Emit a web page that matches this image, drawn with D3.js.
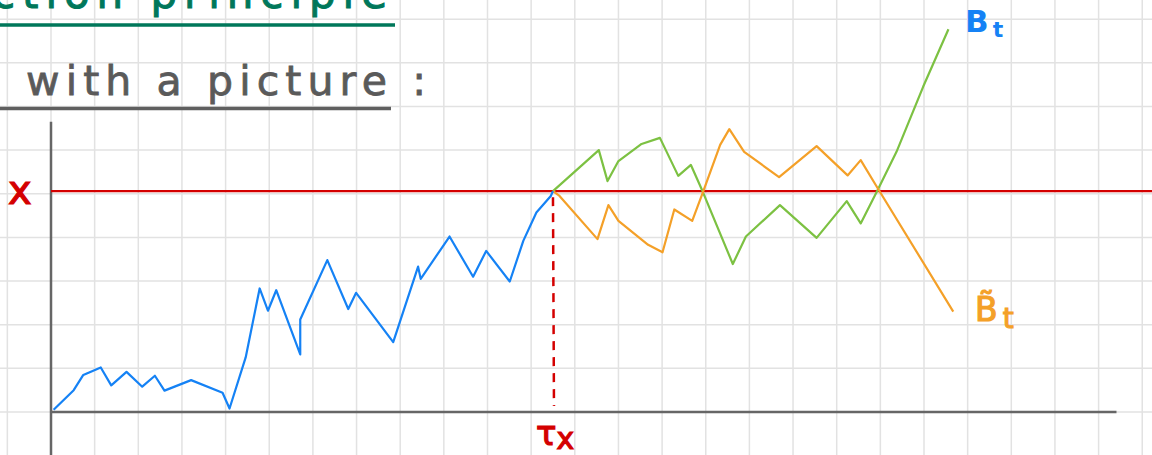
<!DOCTYPE html>
<html>
<head>
<meta charset="utf-8">
<script src="https://cdnjs.cloudflare.com/ajax/libs/d3/7.8.5/d3.min.js"></script>
<style>
  html, body { margin: 0; padding: 0; background: #fff; overflow: hidden; }
</style>
</head>
<body>
<div id="chart"></div>
<script>
'use strict';

// time (grid squares from the vertical axis) and value (grid squares above the time axis)
const blueT = [0.06, 0.52, 0.74, 1.14, 1.38, 1.73, 2.09, 2.38, 2.60, 3.21, 3.93, 4.09, 4.46, 4.78, 4.97, 5.16, 5.71, 5.71, 6.33, 6.81, 6.99, 7.84, 8.41, 8.47, 9.13, 9.67, 9.97, 10.51, 10.82, 11.12, 11.45, 11.50];
const blueV = [0.05, 0.50, 0.85, 1.02, 0.61, 0.92, 0.58, 0.83, 0.49, 0.73, 0.44, 0.08, 1.25, 2.83, 2.32, 2.79, 1.32, 2.12, 3.48, 2.36, 2.73, 1.60, 3.33, 3.05, 4.02, 3.10, 3.69, 2.99, 3.92, 4.57, 4.95, 5.06];

const greenT = [11.50, 12.55, 12.75, 13.00, 13.53, 13.95, 14.37, 14.66, 14.93, 15.62, 15.92, 16.70, 17.54, 18.23, 18.55, 18.95, 19.37, 19.98, 20.56];
const greenV = [5.06, 6.00, 5.29, 5.75, 6.14, 6.28, 5.41, 5.66, 5.05, 3.39, 4.02, 4.74, 3.99, 4.83, 4.32, 5.11, 5.96, 7.45, 8.77];

const orangeT = [11.50, 11.65, 12.52, 12.77, 13.00, 13.68, 14.01, 14.28, 14.69, 14.93, 15.33, 15.54, 15.88, 16.68, 17.54, 18.25, 18.55, 18.95, 20.67];
const orangeV = [5.06, 4.95, 3.96, 4.74, 4.38, 3.83, 3.66, 4.64, 4.38, 5.02, 6.12, 6.48, 5.96, 5.38, 6.09, 5.42, 5.77, 5.11, 2.30];

const barrier = 5.06;     // level x
const hitTime = 11.50;    // tau_x

const gridT = d3.range(-1, 26);
const gridV = d3.range(0, 10);

(function() {

  let svg = "";

  window.onload = function() {
    svg = d3.select('#chart')
      .append('svg')
      .attr('width', 1152)
      .attr('height', 455);
    drawPage();
  }

  function drawPage() {
    // one grid square = 43.65 px
    let xScale = d3.scaleLinear()
      .domain([0, 25])
      .range([51, 51 + 25 * 43.65]);
    let yScale = d3.scaleLinear()
      .domain([0, 9])
      .range([412, 412 - 9 * 43.65]);

    // paper grid
    svg.append('g').selectAll('line')
      .data(gridT)
      .enter()
      .append('line')
        .attr('x1', (d) => xScale(d))
        .attr('x2', (d) => xScale(d))
        .attr('y1', 0)
        .attr('y2', 455)
        .attr('stroke', '#e2e2e2')
        .attr('stroke-width', 1.5);
    svg.append('g').selectAll('line')
      .data(gridV)
      .enter()
      .append('line')
        .attr('x1', 0)
        .attr('x2', 1152)
        .attr('y1', (d) => yScale(d))
        .attr('y2', (d) => yScale(d))
        .attr('stroke', '#e2e2e2')
        .attr('stroke-width', 1.5);

    makeHeadings();

    // axes
    svg.append('line')
      .attr('x1', xScale(0)).attr('x2', xScale(0))
      .attr('y1', yScale(6.65)).attr('y2', 455)
      .attr('stroke', '#666').attr('stroke-width', 2.5);
    svg.append('line')
      .attr('x1', xScale(0)).attr('x2', xScale(24.41))
      .attr('y1', yScale(0)).attr('y2', yScale(0))
      .attr('stroke', '#666').attr('stroke-width', 2.5);

    // barrier level x
    svg.append('line')
      .attr('x1', xScale(0)).attr('x2', 1152)
      .attr('y1', yScale(barrier)).attr('y2', yScale(barrier))
      .attr('stroke', '#d40000').attr('stroke-width', 2.2);

    // hitting time
    svg.append('line')
      .attr('x1', xScale(hitTime)).attr('x2', xScale(hitTime) + 1)
      .attr('y1', yScale(barrier) + 6).attr('y2', yScale(0) - 6)
      .attr('stroke', '#d40000')
      .attr('stroke-width', 2.5)
      .attr('stroke-dasharray', '9,7');

    let line = d3.line()
      .x((d) => xScale(d[0]))
      .y((d) => yScale(d[1]));

    let paths = [
      {t: greenT, v: greenV, color: '#7cc142'},
      {t: orangeT, v: orangeV, color: '#f4a028'},
      {t: blueT, v: blueV, color: '#1582f5'}
    ];
    paths.forEach((p) => {
      svg.append('path')
        .datum(d3.zip(p.t, p.v))
        .attr('fill', 'none')
        .attr('stroke', p.color)
        .attr('stroke-width', 2.2)
        .attr('stroke-linejoin', 'round')
        .attr('d', line);
    });

    makeLabels();
  }

  // headings at the top of the page (the first one runs off the top edge, as in the notes)
  function makeHeadings() {
    svg.append('text')
      .attr('x', -8)
      .attr('y', 8)
      .attr('textLength', 395)
      .attr('lengthAdjust', 'spacing')
      .style('font-family', 'DejaVu Sans')
      .style('font-size', '42px')
      .style('fill', '#00775a')
      .style('stroke', '#00775a')
      .style('stroke-width', 1)
      .text('ction  principle');
    svg.append('line')
      .attr('x1', 0).attr('x2', 395)
      .attr('y1', 25).attr('y2', 25)
      .attr('stroke', '#00775a').attr('stroke-width', 3.5);

    svg.append('text')
      .attr('x', 26)
      .attr('y', 95)
      .attr('textLength', 400)
      .attr('lengthAdjust', 'spacing')
      .style('font-family', 'DejaVu Sans')
      .style('font-size', '41px')
      .style('fill', '#5a5a5a')
      .style('stroke', '#5a5a5a')
      .style('stroke-width', 0.8)
      .text('with a picture :');
    svg.append('line')
      .attr('x1', 0).attr('x2', 391)
      .attr('y1', 108.5).attr('y2', 108.5)
      .attr('stroke', '#5f5f5f').attr('stroke-width', 3.5);
  }

  // labels for the level, the hitting time and the two paths
  function makeLabels() {
    svg.append('text')
      .attr('x', 8)
      .attr('y', 204)
      .style('font-family', 'DejaVu Sans')
      .style('font-size', '40px')
      .style('fill', '#d40000')
      .style('stroke', '#d40000')
      .style('stroke-width', 1.2)
      .text('x');

    let tau = svg.append('text')
      .attr('x', 536)
      .attr('y', 445)
      .style('font-family', 'DejaVu Sans')
      .style('font-size', '34px')
      .style('fill', '#d40000')
      .style('stroke', '#d40000')
      .style('stroke-width', 1.2);
    tau.append('tspan').text('τ');
    tau.append('tspan').attr('dy', 4).style('font-size', '30px').text('x');

    let b = svg.append('text')
      .attr('x', 965)
      .attr('y', 32)
      .style('font-family', 'DejaVu Sans')
      .style('font-size', '31px')
      .style('font-weight', 'bold')
      .style('fill', '#1582f5');
    b.append('tspan').text('B');
    b.append('tspan').attr('dx', 4).attr('dy', 5).style('font-size', '22px').text('t');

    let bt = svg.append('text')
      .attr('x', 975)
      .attr('y', 321)
      .style('font-family', 'DejaVu Sans')
      .style('font-size', '33px')
      .style('fill', '#f4a028')
      .style('stroke', '#f4a028')
      .style('stroke-width', 1.2);
    bt.append('tspan').text('B\u0303');
    bt.append('tspan').attr('dx', 5).attr('dy', 7).style('font-size', '28px').text('t');
  }

})();
</script>
</body>
</html>
